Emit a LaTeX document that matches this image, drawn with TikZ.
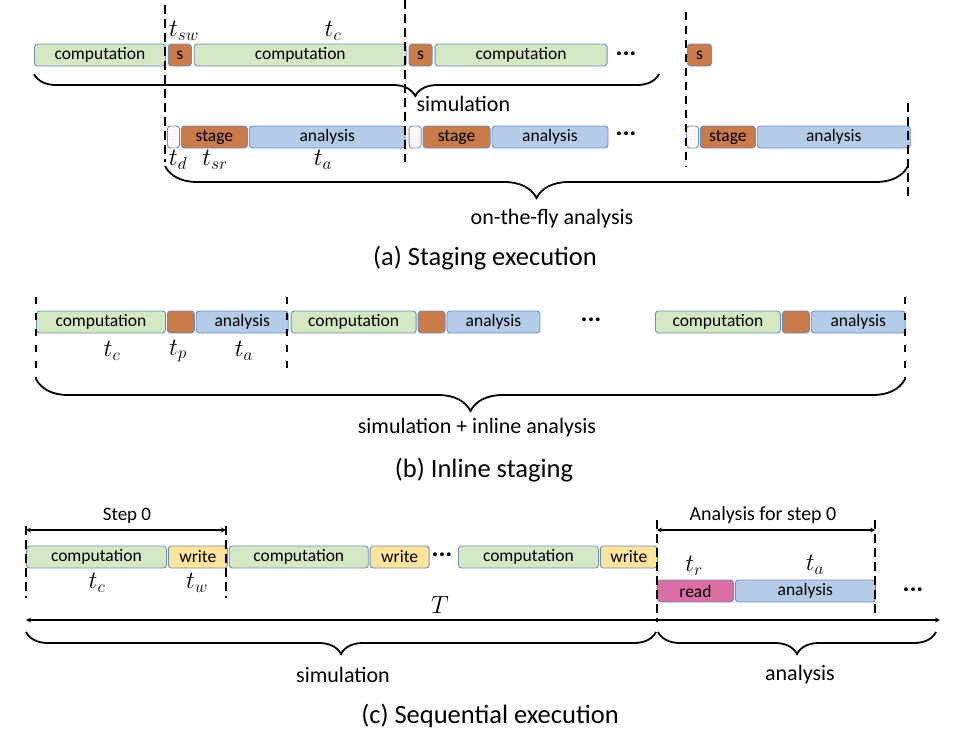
\documentclass[tikz,border=0pt]{standalone}
\usepackage{fontspec}
\setmainfont{Carlito}
\usetikzlibrary{positioning,decorations.pathreplacing,patterns}
\definecolor{boxline}{RGB}{108,142,191}
\definecolor{compgreen}{RGB}{213,232,196}
\definecolor{stageorange}{RGB}{201,123,74}
\definecolor{anablue}{RGB}{180,204,232}
\definecolor{writeyellow}{RGB}{255,228,156}
\definecolor{readpink}{RGB}{218,111,164}
\begin{document}
\begin{tikzpicture}[x=1pt,y=-1pt,>=stealth,
    box/.style={draw=boxline,line width=0.9pt,rounded corners=3pt,inner sep=0pt,minimum height=22pt,font=\fontsize{17.5}{19}\selectfont},
    comp/.style={box,fill=compgreen},
    stg/.style={box,fill=stageorange},
    ana/.style={box,fill=anablue},
    wr/.style={box,fill=writeyellow},
    rd/.style={box,fill=readpink},
    gapbox/.style={box,fill=white,pattern=crosshatch dots,pattern color=red!20},
    dots/.style={font=\fontsize{26}{26}\bfseries},
    tlabel/.style={font=\fontsize{25}{27}\selectfont},
    sep/.style={line width=2.2pt,dash pattern=on 9pt off 5pt},
    thinsep/.style={line width=1.5pt,dash pattern=on 7pt off 9pt},
    brc/.style={decorate,decoration={brace,mirror,amplitude=#1},line width=1.8pt},
    note/.style={font=\fontsize{22}{24}\selectfont},
    caption/.style={font=\fontsize{26.5}{29}\selectfont}]

    \useasboundingbox (0,0) rectangle (970,747);

    % (a) staging execution
    \node[comp, minimum width=131pt, anchor=west] (ac1) at (34,55) {computation};
    \node[stg, minimum width=23pt, right=2pt of ac1] (as1) {s};
    \node[comp, minimum width=212pt, right=2pt of as1] (ac2) {computation};
    \node[stg, minimum width=23pt, right=2pt of ac2] (as2) {s};
    \node[comp, minimum width=172pt, right=2pt of as2] (ac3) {computation};
    \node[dots] (adots1) at (626,54) {...};
    \node[stg, minimum width=24pt, anchor=west] (as3) at (687,55) {s};

    \node[gapbox, minimum width=12pt, anchor=west] (ag1) at (167,137) {};
    \node[stg, minimum width=66pt, right=1pt of ag1] (ast1) {stage};
    \node[ana, minimum width=156pt, right=1pt of ast1] (aa1) {analysis};
    \node[gapbox, minimum width=12pt, right=3pt of aa1] (ag2) {};
    \node[stg, minimum width=67pt, right=1pt of ag2] (ast2) {stage};
    \node[ana, minimum width=116pt, right=1pt of ast2] (aa2) {analysis};
    \node[dots] (adots2) at (626,134) {...};
    \node[gapbox, minimum width=12pt, anchor=west] (ag3) at (686,137) {};
    \node[stg, minimum width=55pt, right=1pt of ag3] (ast3) {stage};
    \node[ana, minimum width=153pt, right=1pt of ast3] (aa3) {analysis};

    \node[tlabel] (tsw) at (184,31) {$t_{sw}$};
    \node[tlabel] (tc1) at (333,31) {$t_c$};
    \node[tlabel] (td) at (178,160) {$t_d$};
    \node[tlabel] (tsr) at (215,160) {$t_{sr}$};
    \node[tlabel] (ta1) at (323,160) {$t_a$};

    \draw[sep] (165,5) -- (165,162);
    \draw[sep] (405,0) -- (405,162);
    \draw[line width=1.5pt,dash pattern=on 8pt off 6pt] (686,12) -- (686,167);
    \draw[sep] (908,103) -- (908,198);

    \draw[brc=22pt,decoration={aspect=0.61}] (34,74) -- (659,74);
    \node[note, anchor=west] (asim) at (413,104) {simulation};
    \draw[brc=32pt] (165,166) -- (908,166);
    \node[note] (afly) at (552,219) {on-the-fly analysis};
    \node[caption] (capa) at (485,258) {(a) Staging execution};

    % (b) inline staging
    \node[comp, minimum width=129pt, anchor=west] (bc1) at (36,322) {computation};
    \node[stg, minimum width=27pt, right=1pt of bc1] (bp1) {};
    \node[ana, minimum width=92pt, right=1pt of bp1] (ba1) {analysis};
    \node[comp, minimum width=125pt, right=2pt of ba1] (bc2) {computation};
    \node[stg, minimum width=27pt, right=1pt of bc2] (bp2) {};
    \node[ana, minimum width=93pt, right=1pt of bp2] (ba2) {analysis};
    \node[dots] (bdots) at (591,320) {...};
    \node[comp, minimum width=125pt, anchor=west] (bc3) at (655,322) {computation};
    \node[stg, minimum width=27pt, right=1pt of bc3] (bp3) {};
    \node[ana, minimum width=94pt, right=1pt of bp3] (ba3) {analysis};

    \node[tlabel] (tc2) at (112,351) {$t_c$};
    \node[tlabel] (tp) at (178,351) {$t_p$};
    \node[tlabel] (ta2) at (244,351) {$t_a$};

    \draw[thinsep] (36,297) -- (36,380);
    \draw[thinsep] (287,297) -- (287,372);
    \draw[thinsep] (905,297) -- (905,380);

    \draw[brc=32pt] (36,379) -- (905,379);
    \node[note] (bsim) at (477,428) {simulation + inline analysis};
    \node[caption] (capb) at (484,470) {(b) Inline staging};

    % (c) sequential execution
    \node[comp, minimum width=140pt, anchor=west] (cc1) at (26,557) {computation};
    \node[wr, minimum width=59pt, right=1pt of cc1] (cw1) {write};
    \node[comp, minimum width=139pt, right=1pt of cw1] (cc2) {computation};
    \node[wr, minimum width=59pt, right=1pt of cc2] (cw2) {write};
    \node[dots] (cdots1) at (442,555) {...};
    \node[comp, minimum width=140pt, anchor=west] (cc3) at (458,557) {computation};
    \node[wr, minimum width=57pt, right=1pt of cc3] (cw3) {write};
    \node[rd, minimum width=76pt, anchor=west] (crd) at (657,591) {read};
    \node[ana, minimum width=140pt, right=1pt of crd] (ca) {analysis};
    \node[dots] (cdots2) at (913,590) {...};

    \node[tlabel] (tc3) at (97,583) {$t_c$};
    \node[tlabel] (tw) at (197,583) {$t_w$};
    \node[tlabel] (tr) at (694,566) {$t_r$};
    \node[tlabel] (ta3) at (815,565) {$t_a$};
    \node[tlabel] (tT) at (440,605) {$T$};

    \draw[sep] (26,526) -- (26,598);
    \draw[sep] (226,526) -- (226,598);
    \draw[sep] (657,520) -- (657,622);
    \draw[sep] (875,520) -- (875,616);

    \coordinate (s0l) at (26,530);
    \coordinate (s0r) at (226,530);
    \coordinate (a0l) at (657,530);
    \coordinate (a0r) at (875,530);
    \coordinate (tl) at (26,620);
    \coordinate (tr) at (940,620);
    \draw[<->,line width=1.2pt] (s0l) -- (s0r);
    \node[font=\fontsize{19}{21}\selectfont] (step0) at (127,516) {Step 0};
    \draw[<->,line width=1.2pt] (a0l) -- (a0r);
    \node[font=\fontsize{20}{22}\selectfont] (an0) at (763,515) {Analysis for step 0};
    \draw[<->,line width=1.2pt] (tl) -- (tr);

    \draw[brc=22pt] (26,632) -- (656,632);
    \draw[brc=22pt] (658,632) -- (936,632);
    \node[note] (csim) at (343,675) {simulation};
    \node[note] (cana) at (800,675) {analysis};
    \node[caption] (capc) at (490,716) {(c) Sequential execution};
\end{tikzpicture}
\end{document}
